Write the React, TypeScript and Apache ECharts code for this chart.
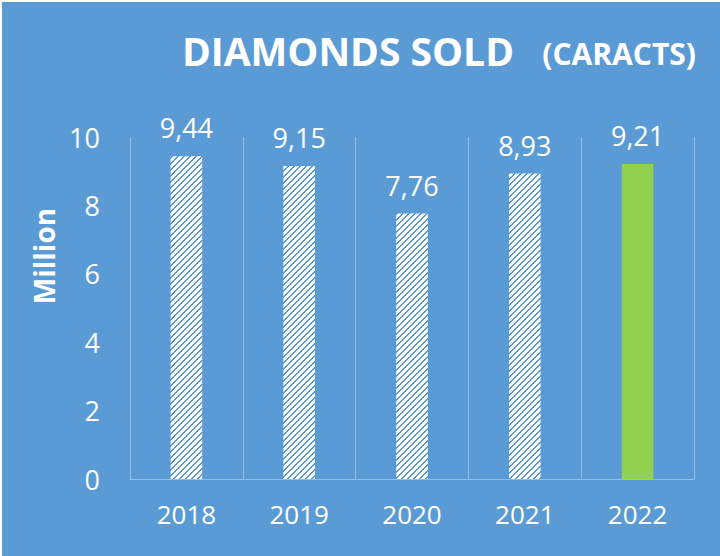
import React, { useEffect, useRef } from "react";
import * as echarts from "echarts";

const categories = ["2018", "2019", "2020", "2021", "2022"];
const values = [9.44, 9.15, 7.76, 8.93, 9.21];
const highlightIndex = 4;
const yTicks = [0, 2, 4, 6, 8, 10];

const BLUE = "#5B9BD5";
const GREEN = "#92D050";

function makeHatch() {
  const c = document.createElement("canvas");
  c.width = 6;
  c.height = 6;
  const ctx = c.getContext("2d")!;
  ctx.fillStyle = "#ffffff";
  ctx.fillRect(0, 0, 6, 6);
  ctx.fillStyle = BLUE;
  for (let x = 0; x < 6; x++) {
    const y = 5 - x;
    ctx.fillRect(x, y, 1, 1);
    ctx.fillRect(x, (y + 1) % 6, 1, 1);
  }
  return c;
}

export default function App() {
  const ref = useRef<HTMLDivElement>(null);
  useEffect(() => {
    document.body.style.margin = "0";
    const chart = echarts.init(ref.current!, undefined, { renderer: "svg" });
    const hatch = makeHatch();
    const fmt = (v: number) => v.toFixed(2).replace(".", ",");
    chart.setOption({
      animation: false,
      backgroundColor: BLUE,
      textStyle: { fontFamily: "Open Sans" },
      graphic: [
        {
          type: "text",
          right: 206,
          top: 29,
          style: {
            text: "DIAMONDS SOLD",
            fill: "#ffffff",
            font: "bold 39px 'Open Sans'",
          },
        },
        {
          type: "text",
          right: 24,
          top: 36,
          style: {
            text: "(CARACTS)",
            fill: "#ffffff",
            font: "bold 30px 'Open Sans'",
          },
        },
      ],
      grid: { left: 128, right: 26, top: 135, bottom: 77 },
      xAxis: {
        type: "category",
        data: categories,
        axisLine: { show: true, lineStyle: { color: "rgba(255,255,255,0.35)", width: 1 } },
        axisTick: { show: false },
        splitLine: { show: true, lineStyle: { color: "rgba(255,255,255,0.35)", width: 1 } },
        axisLabel: { color: "#ffffff", fontSize: 26, margin: 22, fontFamily: "Open Sans" },
      },
      yAxis: {
        type: "value",
        min: yTicks[0],
        max: yTicks[yTicks.length - 1],
        interval: 2,
        name: "Million",
        nameLocation: "middle",
        nameRotate: 90,
        nameGap: 68,
        nameTextStyle: {
          color: "#ffffff",
          fontSize: 28,
          fontWeight: "bold",
          fontFamily: "Open Sans",
          padding: [0, 0, 0, 104],
        },
        axisLine: { show: false },
        axisTick: { show: false },
        splitLine: { show: false },
        axisLabel: { color: "#ffffff", fontSize: 27, margin: 30, fontFamily: "Open Sans" },
      },
      series: [
        {
          type: "bar",
          barWidth: "28%",
          data: values.map((v, i) => ({
            value: v,
            itemStyle: {
              color: i === highlightIndex ? GREEN : { image: hatch, repeat: "repeat" },
            },
          })),
          label: {
            show: true,
            position: "top",
            distance: 15,
            color: "#ffffff",
            fontSize: 27,
            fontFamily: "Open Sans",
            formatter: (p: any) => fmt(p.value),
          },
        },
      ],
    });
    return () => chart.dispose();
  }, []);
  return (
    <div style={{ width: 720, height: 556, background: "#ffffff", position: "relative" }}>
      <div
        ref={ref}
        style={{ position: "absolute", left: 2, top: 2, width: 718, height: 554 }}
      />
    </div>
  );
}
